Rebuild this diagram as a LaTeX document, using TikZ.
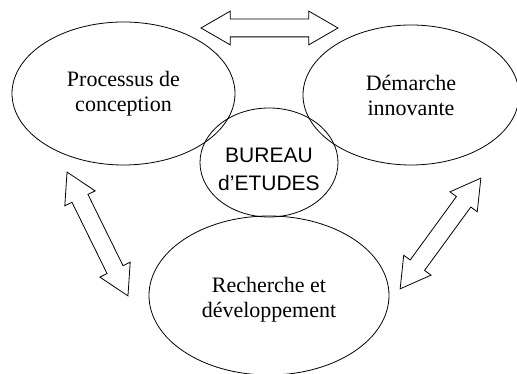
\documentclass[tikz,border=0pt]{standalone}
\usepackage{fontspec}
\setmainfont{Liberation Serif}
\newfontfamily\arialfont{Liberation Sans}
\usetikzlibrary{shapes.geometric,shapes.arrows}

\begin{document}
\begin{tikzpicture}[x=1pt,y=1pt,
    bulle/.style={draw,line width=0.8pt,ellipse,inner sep=0pt,align=center,font=\fontsize{22}{25}\selectfont},
    fleche/.style={draw,line width=0.8pt,double arrow,inner xsep=0pt,inner ysep=8.5pt,
        double arrow head extend=8pt,double arrow tip angle=60}]
\useasboundingbox (0,0) rectangle (517,374);
\clip (0,0) rectangle (517,374);

\node[bulle,minimum width=223pt,minimum height=143pt] (proc) at (123.5,280.5){Processus de\\conception};
\node[bulle,minimum width=216pt,minimum height=140pt] (dema) at (411,279){D\'emarche\\innovante};
\node[bulle,minimum width=138pt,minimum height=109pt] (be) at (269,211.5){};
\node[align=center,font=\arialfont\fontsize{21}{28}\selectfont] (betxt) at ([yshift=-7pt]be.center){BUREAU\\d’ETUDES};
\node[bulle,minimum width=240pt,minimum height=159pt] (rech) at (269,78.5){};
\node[align=center,font=\fontsize{22}{25}\selectfont] (rechtxt) at ([yshift=-4pt]rech.center){Recherche et\\d\'eveloppement};

\node[fleche,minimum height=137pt] (f1) at (269.5,346){};
\node[fleche,minimum height=138pt,rotate=116.2] (f2) at (97.5,140){};
\node[fleche,minimum height=137pt,rotate=53.9] (f3) at (440.5,140.5){};

\end{tikzpicture}
\end{document}
